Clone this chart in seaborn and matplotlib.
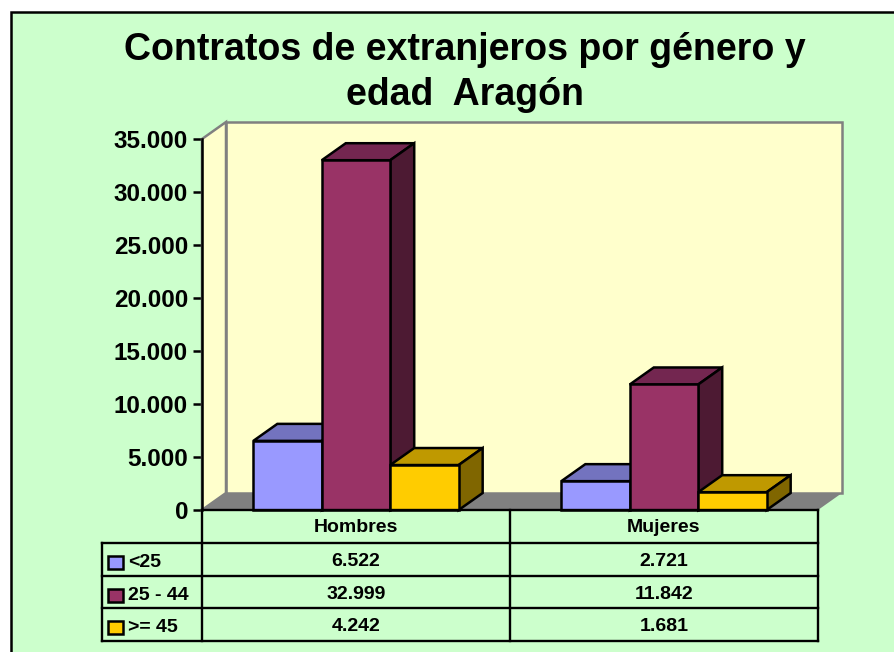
# Contratos de extranjeros por genero y edad - Aragon
import pandas as pd
import seaborn as sns
import matplotlib.pyplot as plt
from matplotlib.lines import Line2D
from matplotlib.patches import Polygon, Rectangle
from matplotlib.ticker import FuncFormatter

generos = ['Hombres', 'Mujeres']
edades = ['<25', '25 - 44', '>= 45']
menores_25 = [6522, 2721]
entre_25_44 = [32999, 11842]
mayores_45 = [4242, 1681]
yticks = [0, 5000, 10000, 15000, 20000, 25000, 30000, 35000]

colores = ['#9999FF', '#993366', '#FFCC00']
tapas = ['#7373BF', '#732650', '#BF9900']
lados = ['#4D4D80', '#4D1A33', '#806600']

W, H = 895, 652
LW = 1.8


def miles(v):
    return f'{int(v):,}'.replace(',', '.')


def fx(x):
    return x / W


def fy(y):
    return 1 - y / H


df = pd.DataFrame({
    'Genero': generos * 3,
    'Edad': [e for e in edades for _ in generos],
    'Contratos': menores_25 + entre_25_44 + mayores_45,
})

sns.set_theme(style='white')
plt.rcParams['font.family'] = ['Liberation Sans', 'DejaVu Sans']
plt.rcParams['font.weight'] = 'bold'

fig = plt.figure(figsize=(W / 100, H / 100), dpi=100, facecolor='white')
fig.add_artist(Rectangle((fx(11), fy(H + 20)), fx(W + 20), fy(12) - fy(H + 20),
                         transform=fig.transFigure, facecolor='#CCFFCC',
                         edgecolor='black', linewidth=LW, zorder=-1))

ax = fig.add_axes([fx(202), fy(510), fx(616), fy(139) - fy(510)])
ax.patch.set_alpha(0)
sns.barplot(data=df, x='Genero', y='Contratos', hue='Edad', order=generos,
            hue_order=edades, palette=colores, width=2 / 3, gap=0, saturation=1,
            edgecolor='black', linewidth=LW, legend=False, ax=ax)
ax.set_xlim(-0.5, 1.5)
ax.set_ylim(0, 35000)

# caras frontales que dibujo seaborn, de izquierda a derecha
barras = sorted(ax.patches, key=lambda b: b.get_x())

# profundidad del efecto 3D, en unidades de datos
dx = 24 / 308
dy = 17 / 371 * 35000

# paredes y suelo
x0, x1 = -0.5, 1.5
y1 = 35000
pared = Polygon([(x0 + dx, dy), (x1 + dx, dy), (x1 + dx, y1 + dy), (x0 + dx, y1 + dy)],
                facecolor='#FFFFCC', edgecolor='#808080', linewidth=LW, zorder=0.5, clip_on=False)
lateral = Polygon([(x0, 0), (x0 + dx, dy), (x0 + dx, y1 + dy), (x0, y1)],
                  facecolor='#FFFFCC', edgecolor='#808080', linewidth=LW, zorder=0.6, clip_on=False)
suelo = Polygon([(x0, 0), (x1, 0), (x1 + dx, dy), (x0 + dx, dy)],
                facecolor='#808080', edgecolor='none', zorder=0.7, clip_on=False)
for p in [pared, lateral, suelo]:
    ax.add_patch(p)

# caras superior y lateral de cada barra
for i, b in enumerate(barras):
    # seaborn ordena por x: H<25, H25-44, H>=45, M<25 ...
    grupo = i % 3
    xa, xb = b.get_x(), b.get_x() + b.get_width()
    h = b.get_height()
    b.set_zorder(3 + i + 0.5)
    b.set_clip_on(False)
    ax.add_patch(Polygon([(xa, h), (xb, h), (xb + dx, h + dy), (xa + dx, h + dy)],
                         facecolor=tapas[grupo], edgecolor='black', linewidth=LW,
                         zorder=3 + i, clip_on=False))
    ax.add_patch(Polygon([(xb, 0), (xb + dx, dy), (xb + dx, h + dy), (xb, h)],
                         facecolor=lados[grupo], edgecolor='black', linewidth=LW,
                         zorder=3 + i, clip_on=False))

sns.despine(ax=ax, top=True, right=True, bottom=True)
ax.spines['left'].set_linewidth(LW)
ax.spines['left'].set_color('black')
ax.spines['left'].set_zorder(2)
ax.set_yticks(yticks)
ax.yaxis.set_major_formatter(FuncFormatter(lambda v, _: miles(v)))
ax.tick_params(axis='y', left=True, length=6.5, width=LW, pad=3.5, labelsize=17.5,
               labelcolor='black', color='black')
ax.set_xticks([])
ax.set_xlabel('')
ax.set_ylabel('')

# titulo
fig.text(fx(465), fy(60.5), 'Contratos de extranjeros por género y', ha='center', va='baseline',
         fontsize=27, fontweight='bold', color='black')
fig.text(fx(465), fy(105), 'edad  Aragón', ha='center', va='baseline',
         fontsize=27, fontweight='bold', color='black')

# tabla de datos
filas = [510, 543, 576, 608, 641]
col_izq, col_1, col_2, col_3 = 102, 202, 510, 818


def linea(xs, ys):
    fig.add_artist(Line2D([fx(v) for v in xs], [fy(v) for v in ys], color='black',
                          linewidth=1.7, solid_capstyle='projecting', zorder=10))


linea([col_1, col_3], [filas[0], filas[0]])
for y in filas[1:]:
    linea([col_izq, col_3], [y, y])
linea([col_izq, col_izq], [filas[1], filas[4]])
for x in [col_1, col_2, col_3]:
    linea([x, x], [filas[0], filas[4]])

centros = [(col_1 + col_2) / 2, (col_2 + col_3) / 2]
for c, g in zip(centros, generos):
    fig.text(fx(c), fy(532.5), g, ha='center', va='baseline', fontsize=14, fontweight='bold', color='black')

valores = [menores_25, entre_25_44, mayores_45]
for r, (edad, serie) in enumerate(zip(edades, valores)):
    base = filas[r + 1] + 24
    fig.add_artist(Rectangle((fx(108), fy(filas[r + 1] + 25.5)), 15 / W, 13 / H, transform=fig.transFigure,
                             facecolor=colores[r], edgecolor='black', linewidth=LW, zorder=10))
    fig.text(fx(128), fy(base), edad, ha='left', va='baseline', fontsize=14, fontweight='bold', color='black')
    for c, v in zip(centros, serie):
        fig.text(fx(c), fy(base - 1), miles(v), ha='center', va='baseline', fontsize=14,
                 fontweight='bold', color='black')

fig.savefig('out.png', dpi=100, facecolor=fig.get_facecolor())
